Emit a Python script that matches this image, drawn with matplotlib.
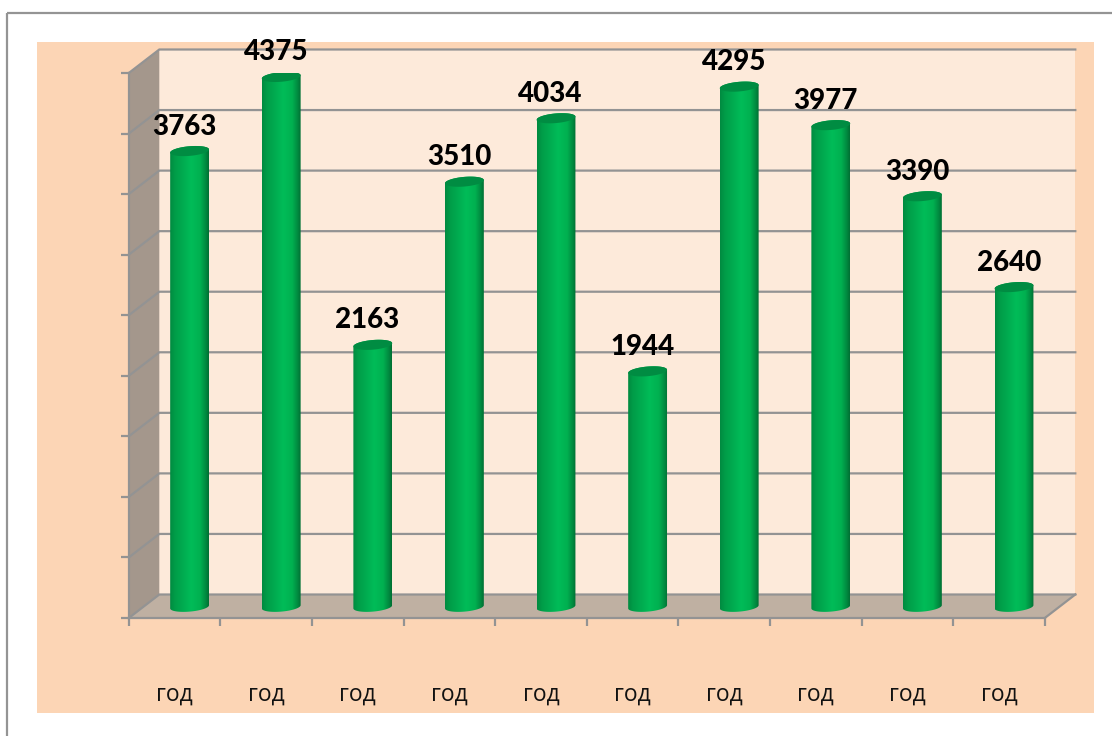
import numpy as np
import matplotlib
matplotlib.use("Agg")
import matplotlib.pyplot as plt
from matplotlib.colors import LinearSegmentedColormap
from matplotlib.patches import Polygon, Rectangle

# --- data ---
values = [3763, 4375, 2163, 3510, 4034, 1944, 4295, 3977, 3390, 2640]
categories = ["год"] * 10
y_ticks = [0, 500, 1000, 1500, 2000, 2500, 3000, 3500, 4000, 4500]

W, H = 1112, 736
fig = plt.figure(figsize=(W / 100, H / 100), dpi=100, facecolor="white")

PEACH, WALL, SIDE, FLOOR, GRID = "#FCD5B5", "#FDEADA", "#A4978C", "#BFB0A2", "#939393"
BORDER = "#949494"

# Background shapes in pixel space
bg = fig.add_axes([0, 0, 1, 1], zorder=0)
bg.set_xlim(0, W); bg.set_ylim(H, 0); bg.axis("off")
bg.add_patch(Rectangle((37, 42), 1057, 671, fc=PEACH, ec="none"))
bg.plot([7, 7], [736, 13], color=BORDER, lw=1.6, solid_capstyle="butt")
bg.plot([7, 1112], [13, 13], color=BORDER, lw=1.6, solid_capstyle="butt")

# Main axes = front plane of the 3-D box
L, R, T, B = 128.8, 1044.8, 73, 618
ax = fig.add_axes([L / W, 1 - B / H, (R - L) / W, (B - T) / H], zorder=1)
ax.patch.set_alpha(0)
n = len(values)
ax.set_xlim(0, n); ax.set_ylim(y_ticks[0], y_ticks[-1])
px_x = n / (R - L)
px_y = y_ticks[-1] / (B - T)
DX, DY = 30.5 * px_x, 23.5 * px_y   # depth of the box in data units

# walls
ax.add_patch(Polygon([(DX, DY), (n + DX, DY), (n + DX, y_ticks[-1] + DY), (DX, y_ticks[-1] + DY)],
                     fc=WALL, ec="none", clip_on=False, zorder=1))
ax.add_patch(Polygon([(0, 0), (DX, DY), (DX, y_ticks[-1] + DY), (0, y_ticks[-1])],
                     fc=SIDE, ec="none", clip_on=False, zorder=1))
ax.add_patch(Polygon([(0, 0), (n, 0), (n + DX, DY), (DX, DY)],
                     fc=FLOOR, ec="none", clip_on=False, zorder=1))
for v in y_ticks:
    ax.plot([0, DX, n + DX], [v, v + DY, v + DY], color=GRID, lw=1.6, clip_on=False, zorder=2,
            solid_joinstyle="miter")
ax.plot([n, n + DX], [0, DY], color=GRID, lw=1.6, clip_on=False, zorder=2)

# axes furniture
for s in ("top", "right"):
    ax.spines[s].set_visible(False)
for s in ("left", "bottom"):
    ax.spines[s].set_color(GRID); ax.spines[s].set_linewidth(1.6); ax.spines[s].set_zorder(3)
ax.set_yticks(y_ticks); ax.set_yticklabels([])
ax.set_xticks(np.arange(n + 1)); ax.set_xticklabels([])
ax.tick_params(axis="both", which="major", color=GRID, width=1.6, length=5.5)
centers = np.arange(n) + 0.5
ax.set_xticks(centers, minor=True)
ax.set_xticklabels(categories, minor=True, fontsize=16.5, family=["Open Sans", "Noto Sans", "DejaVu Sans"], color="#111111")
ax.tick_params(axis="x", which="minor", length=0, pad=46.5)

# cylinders
cmap = LinearSegmentedColormap.from_list("cyl", [(0, "#008A40"), (0.12, "#009C48"), (0.55, "#00BC58"),
                                                 (0.78, "#00B050"), (0.92, "#008A40"), (1, "#006F33")])
grad = np.linspace(0, 1, 128).reshape(1, -1)
RX, RY, TILT = 19.5, 4.8, np.deg2rad(5.0)
BX, BY = 15.0 * px_x, 11.2 * px_y


def ell(cx, cy, t):
    x = RX * np.cos(t); y = RY * np.sin(t)
    xr = x * np.cos(TILT) - y * np.sin(TILT)
    yr = x * np.sin(TILT) + y * np.cos(TILT)
    return cx + xr * px_x, cy + yr * px_y


tt = np.linspace(0, 2 * np.pi, 80)
for c, v in zip(centers, values):
    cx, base, top = c + BX, BY, v + BY
    bx, by = ell(cx, base, np.linspace(np.pi, 2 * np.pi, 40))
    tx, ty = ell(cx, top, np.linspace(0, np.pi, 40))
    body = Polygon(np.column_stack([np.r_[bx, tx], np.r_[by, ty]]), fc="none", ec="none",
                   transform=ax.transData, zorder=4)
    ax.add_patch(body)
    im = ax.imshow(grad, cmap=cmap, extent=(cx - RX * px_x, cx + RX * px_x, 0, top + 100), aspect="auto",
                   interpolation="bilinear", zorder=4)
    im.set_clip_path(body)
    ex, ey = ell(cx, top, tt)
    ax.add_patch(Polygon(np.column_stack([ex, ey]), fc="#008C42", ec="none", zorder=5))
    ax.text(cx - 5.3 * px_x, top + 24.5 * px_y, f"{v}", ha="center", va="center", fontsize=20,
            fontweight=900, family="Lato", color="black", zorder=6, clip_on=False)

ax.set_xlim(0, n); ax.set_ylim(y_ticks[0], y_ticks[-1])
fig.savefig("out.png", dpi=100, facecolor="white")
